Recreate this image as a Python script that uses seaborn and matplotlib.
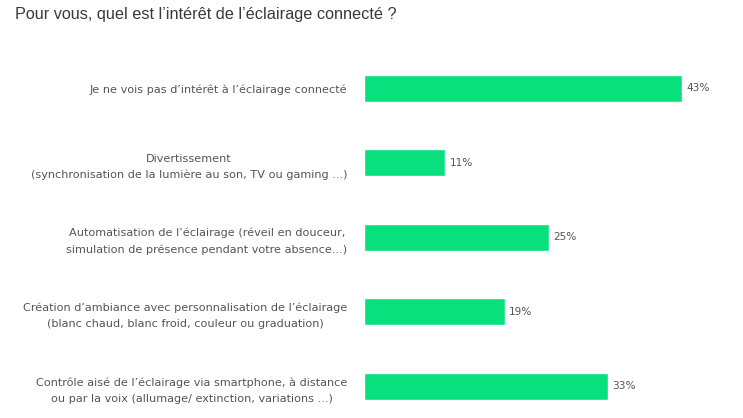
import matplotlib
matplotlib.use("Agg")
import matplotlib.pyplot as plt
import seaborn as sns
import pandas as pd

categories = [
    "Je ne vois pas d\u2019intérêt à l\u2019éclairage connecté",
    "Divertissement\n(synchronisation de la lumière au son, TV ou gaming ...)",
    "Automatisation de l\u2019éclairage (réveil en douceur,\nsimulation de présence pendant votre absence...)",
    "Création d\u2019ambiance avec personnalisation de l\u2019éclairage\n(blanc chaud, blanc froid, couleur ou graduation)",
    "Contrôle aisé de l\u2019éclairage via smartphone, à distance\nou par la voix (allumage/ extinction, variations ...)",
]
values = [43, 11, 25, 19, 33]
value_labels = ["43%", "11%", "25%", "19%", "33%"]
title = "Pour vous, quel est l\u2019intérêt de l\u2019éclairage connecté ?"

sns.set_theme(style="white")
plt.rcParams["font.family"] = ["DejaVu Sans"]

df = pd.DataFrame({"cat": categories, "val": values})

W, H = 743, 418
fig = plt.figure(figsize=(W / 100, H / 100), dpi=100)
ax = fig.add_axes([364 / W, 0, 370 / W, 1 - 51 / H])

sns.barplot(data=df, y="cat", x="val", orient="h", color="#08E07D",
            width=0.36, saturation=1, ax=ax)

ax.set_xlim(0, 370 / 7.4)
ax.set_ylim(4.426, -0.5)
ax.set_xlabel("")
ax.set_ylabel("")
ax.set_xticks([])
for s in ax.spines.values():
    s.set_visible(False)
ax.tick_params(axis="y", length=0, pad=12)
ax.set_yticks(range(len(categories)))
ax.set_yticklabels(categories, fontsize=8.15, color="#555555", ha="right",
                   multialignment="center", linespacing=1.75)

for i, (v, lab) in enumerate(zip(values, value_labels)):
    ax.annotate(lab, xy=(v, i), xytext=(3, 0), textcoords="offset points",
                va="center", ha="left", fontsize=7.6, color="#555555")

fig.text(15 / W, 1 - 15 / H, title, fontsize=11.7, color="#3a3a3a",
         ha="left", va="center", family=["Liberation Sans", "DejaVu Sans"])

fig.savefig("out.png", dpi=100, facecolor="white")
